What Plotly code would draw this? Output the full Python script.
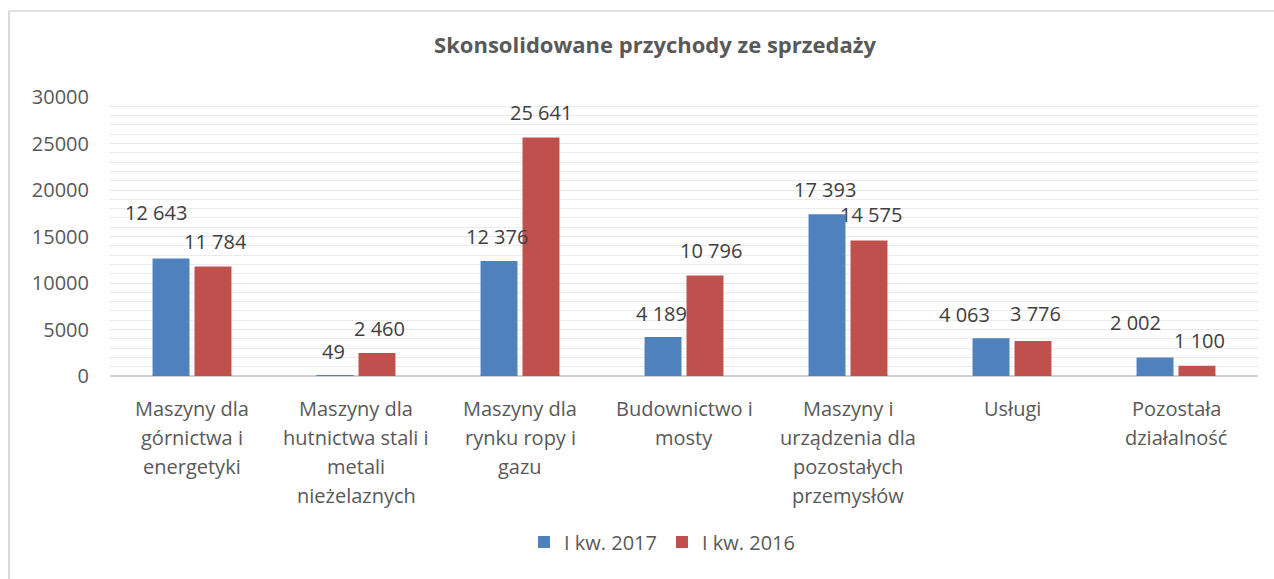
import plotly.graph_objects as go

# ---- data ----
categories = [
    "Maszyny dla<br>górnictwa i<br>energetyki",
    "Maszyny dla<br>hutnictwa stali i<br>metali<br>nieżelaznych",
    "Maszyny dla<br>rynku ropy i<br>gazu",
    "Budownictwo i<br>mosty",
    "Maszyny i<br>urządzenia dla<br>pozostałych<br>przemysłów",
    "Usługi",
    "Pozostała<br>działalność",
]
series_names = ["I kw. 2017", "I kw. 2016"]
values_2017 = [12643, 49, 12376, 4189, 17393, 4063, 2002]
values_2016 = [11784, 2460, 25641, 10796, 14575, 3776, 1100]
y_ticks = [0, 5000, 10000, 15000, 20000, 25000, 30000]
title_text = "Skonsolidowane przychody ze sprzedaży"

# ---- style ----
colors = ["#4F81BD", "#C0504D"]
FONT = "Open Sans"
TXT = "#595959"
LBL = "#404040"
W, H = 1274, 579
ML, MR, MT, MB = 110, 16, 97, 203
PW, PH = W - ML - MR, H - MT - MB
bar_offset_px = 23
# label pixel offsets (dx, height above bar top)
lbl_dx = [[-13, 0, 0, 0, 0, -25, -18], [0, 0, -2, 4, 0, 0, 0]]
lbl_dy = [[46, 24, 24, 24, 25, 24, 35], [25, 25, 25, 25, 26, 27, 25]]

x_idx = list(range(len(categories)))
fig = go.Figure()
for i, (name, vals) in enumerate(zip(series_names, [values_2017, values_2016])):
    fig.add_trace(go.Bar(
        x=x_idx, y=vals, name=name,
        marker=dict(color=colors[i], line=dict(width=0)),
        hoverinfo="skip",
    ))

annotations = []
for s, vals in enumerate([values_2017, values_2016]):
    sign = -1 if s == 0 else 1
    for j, v in enumerate(vals):
        annotations.append(dict(
            x=x_idx[j], y=v, xref="x", yref="y",
            text=f"{v:,}".replace(",", " "),
            showarrow=False, xanchor="center", yanchor="middle",
            xshift=sign * bar_offset_px + lbl_dx[s][j], yshift=lbl_dy[s][j],
            font=dict(family=FONT, size=20, color=LBL),
        ))

for j, lab in enumerate(categories):
    for k, line in enumerate(lab.split("<br>")):
        annotations.append(dict(
            x=x_idx[j], y=0, xref="x", yref="paper",
            text=line, showarrow=False, xanchor="center", yanchor="middle",
            yshift=-(32 + 29 * k),
            font=dict(family=FONT, size=20, color=TXT),
        ))

def px_x(px):
    return (px - ML) / PW

def px_y(py):
    return (H - MB - py) / PH

shapes = [
    dict(type="line", xref="paper", yref="paper", x0=px_x(9), x1=px_x(9),
         y0=px_y(11), y1=px_y(H + 5), line=dict(color="#D9D9D9", width=2)),
    dict(type="line", xref="paper", yref="paper", x0=px_x(9), x1=px_x(W + 5),
         y0=px_y(11), y1=px_y(11), line=dict(color="#D9D9D9", width=1.5)),
]

fig.update_layout(
    width=W, height=H,
    margin=dict(l=ML, r=MR, t=MT, b=MB, autoexpand=False),
    paper_bgcolor="white", plot_bgcolor="white",
    barmode="group", bargap=0.488, bargroupgap=0.12,
    title=dict(text=f"<b>{title_text}</b>", x=655 / W, xanchor="center",
               xref="container", y=1 - 45 / H, yanchor="middle", yref="container",
               font=dict(family=FONT, size=22, color=TXT)),
    font=dict(family=FONT, color=TXT),
    showlegend=True,
    legend=dict(orientation="h", xref="container", yref="container",
                x=662 / W, xanchor="center", y=1 - 542 / H, yanchor="middle",
                font=dict(family=FONT, size=20, color=TXT),
                itemwidth=30, traceorder="normal"),
    xaxis=dict(range=[-0.5, len(categories) - 0.5], showticklabels=False,
               showgrid=False, zeroline=False, showline=False, ticks=""),
    yaxis=dict(range=[0, 30000], tickvals=y_ticks, tickformat="d",
               tickfont=dict(family=FONT, size=20, color=TXT),
               showgrid=True, gridcolor="#E6E6E6", gridwidth=1,
               minor=dict(dtick=1000, showgrid=True, gridcolor="#EBEBEB", gridwidth=1),
               zeroline=True, zerolinecolor="#D0D0D0", zerolinewidth=1.5,
               showline=False, ticks="", ticklabelstandoff=20),
    annotations=annotations,
    shapes=shapes,
)

fig.write_html("out.html", config={"displayModeBar": False},
               post_script="document.body.style.margin='0';document.body.style.overflow='hidden';")
